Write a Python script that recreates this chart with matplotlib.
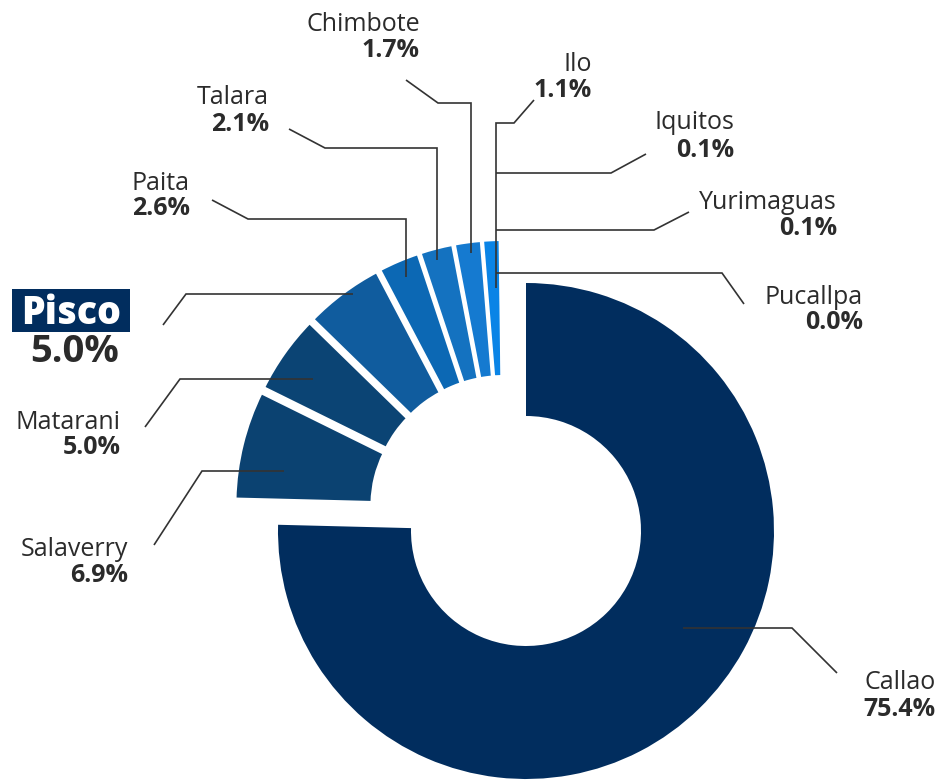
#!/usr/bin/env python3
"""
Donut chart of cargo share by port (Callao vs the rest).
Saves out.png at 941x782 px.
"""

import numpy as np
import matplotlib
matplotlib.use('Agg')
import matplotlib.pyplot as plt
from matplotlib.patches import Rectangle

plt.rcParams['font.family'] = ['Open Sans', 'DejaVu Sans']

# Data
ports = ['Callao', 'Salaverry', 'Matarani', 'Pisco', 'Paita', 'Talara',
         'Chimbote', 'Ilo', 'Iquitos', 'Yurimaguas', 'Pucallpa']
shares = [75.4, 6.9, 5.0, 5.0, 2.6, 2.1, 1.7, 1.1, 0.1, 0.1, 0.0]
colors = ['#012d5e', '#0b4271', '#0b4474', '#105c9e', '#0c68b4', '#1472c0',
          '#157ad0', '#0a84e6', '#0a84e6', '#0a84e6', '#0a84e6']
highlight = 'Pisco'

# Layout, in pixels of the picture (y measured from the top)
W, H = 941, 782
MAIN_CENTER = (526, 531)
MAIN_R, MAIN_HOLE = 248, 115
SMALL_CENTER = (504, 509)
SMALL_R, SMALL_HOLE = 253, 119
EXPLODE = 15  # each small slice pulled out along its middle, px
GAP = 3       # white edge between the small slices, px

# right edge x, name baseline, value baseline
label_pos = {
    'Callao': (936, 689, 716),
    'Salaverry': (128, 556, 582),
    'Matarani': (121, 429, 454),
    'Pisco': (119, 324, 362),
    'Paita': (190, 190, 215),
    'Talara': (269, 104, 131),
    'Chimbote': (420, 31, 57),
    'Ilo': (592, 71, 97),
    'Iquitos': (734, 129, 157),
    'Yurimaguas': (837, 209, 235),
    'Pucallpa': (863, 304, 329),
}

leaders = {
    'Callao': [(683, 628), (792, 628), (837, 673)],
    'Salaverry': [(284, 471), (202, 471), (154, 545)],
    'Matarani': [(313, 379), (180, 379), (145, 427)],
    'Pisco': [(353, 294), (186, 294), (163, 325)],
    'Paita': [(406, 277), (406, 219), (248, 219), (212, 200)],
    'Talara': [(437, 260), (437, 148), (325, 148), (289, 129)],
    'Chimbote': [(471, 253), (471, 103), (438, 103), (406, 80)],
    'Ilo': [(496, 288), (496, 123), (514, 123), (534, 100)],
    'Iquitos': [(496, 173), (611, 173), (646, 154)],
    'Yurimaguas': [(496, 230), (654, 230), (689, 212)],
    'Pucallpa': [(496, 273), (722, 273), (744, 304)],
}

TEXT = '#2b2b2b'
LINE = '#333333'


def Y(y):
    """Convert a y measured from the top into axes data y."""
    return H - y


fig = plt.figure(figsize=(W / 100, H / 100), dpi=100)
ax = fig.add_axes([0, 0, 1, 1])

wedges, _ = ax.pie(shares, colors=colors, startangle=90, counterclock=False,
                   radius=MAIN_R, center=(MAIN_CENTER[0], Y(MAIN_CENTER[1])),
                   wedgeprops=dict(width=MAIN_R - MAIN_HOLE, linewidth=0))

# the small ports form a separate, pulled-out ring
for w in wedges[1:]:
    mid = np.deg2rad((w.theta1 + w.theta2) / 2)
    w.set_center((SMALL_CENTER[0] + EXPLODE * np.cos(mid),
                  Y(SMALL_CENTER[1]) + EXPLODE * np.sin(mid)))
    w.set_radius(SMALL_R + GAP / 2)
    w.set_width(SMALL_R - SMALL_HOLE + GAP)
    w.set_edgecolor('white')
    w.set_linewidth(GAP * 0.72)

# leader lines
for port in ports:
    pts = leaders[port]
    ax.plot([p[0] for p in pts], [Y(p[1]) for p in pts], color=LINE,
            lw=1.2, solid_joinstyle='miter', solid_capstyle='butt', zorder=4)

# labels
for port, share in zip(ports, shares):
    x, yn, yp = label_pos[port]
    if port == highlight:
        ax.add_patch(Rectangle((12, Y(332)), 118, 43, facecolor='#012d5e',
                               edgecolor='none', zorder=4))
        ax.text(71, Y(yn), port, ha='center', va='baseline', fontsize=27,
                fontweight='heavy', color='white', zorder=5)
        ax.text(x, Y(yp), f'{share:.1f}%', ha='right', va='baseline',
                fontsize=27.5, fontweight='bold', color=TEXT, zorder=5)
    else:
        ax.text(x, Y(yn), port, ha='right', va='baseline', fontsize=18,
                color=TEXT, zorder=5)
        ax.text(x, Y(yp), f'{share:.1f}%', ha='right', va='baseline',
                fontsize=18, fontweight='bold', color=TEXT, zorder=5)

ax.set_xlim(0, W)
ax.set_ylim(0, H)
ax.axis('off')

fig.savefig('out.png', dpi=100)
